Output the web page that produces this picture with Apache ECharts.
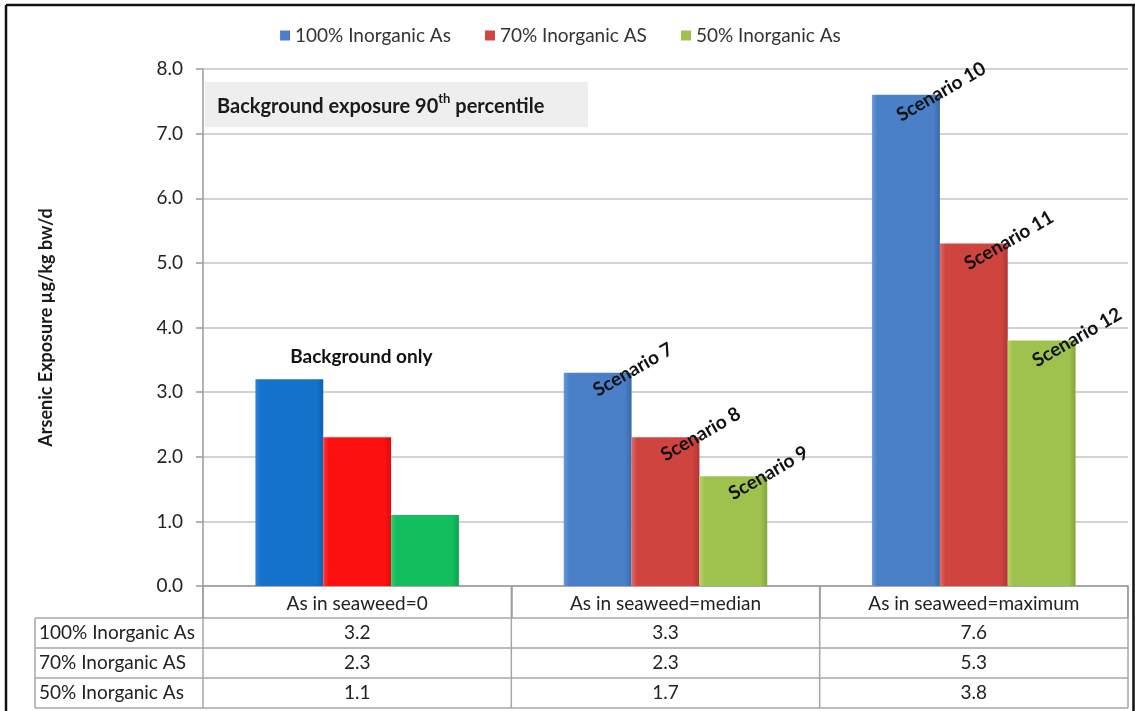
<!DOCTYPE html>
<html>
<head>
<meta charset="utf-8">
<title>Arsenic exposure scenarios</title>
<script src="https://cdn.jsdelivr.net/npm/echarts@6/dist/echarts.min.js"></script>
<style>
  html, body { margin: 0; padding: 0; background: #ffffff; }
  #chart { width: 1135px; height: 711px; }
</style>
</head>
<body>
<div id="chart"></div>
<script>
// Seaweed arsenic categories and exposure values (µg/kg bw/d)
const categories = ['As in seaweed=0', 'As in seaweed=median', 'As in seaweed=maximum'];
const seriesNames = ['100% Inorganic As', '70% Inorganic AS', '50% Inorganic As'];
const inorganic100 = [3.2, 3.3, 7.6];
const inorganic70 = [2.3, 2.3, 5.3];
const inorganic50 = [1.1, 1.7, 3.8];
const scenarioLabels100 = ['Background only', 'Scenario 7', 'Scenario 10'];
const scenarioLabels70 = ['', 'Scenario 8', 'Scenario 11'];
const scenarioLabels50 = ['', 'Scenario 9', 'Scenario 12'];
const yTicks = { min: 0, max: 8, interval: 1 };

const FONT = 'Lato, "Open Sans", sans-serif';
const chart = echarts.init(document.getElementById('chart'), null, { renderer: 'canvas' });

function hGrad(left, mid, right) {
  return new echarts.graphic.LinearGradient(0, 0, 1, 0, [
    { offset: 0, color: left },
    { offset: 0.08, color: mid },
    { offset: 0.9, color: mid },
    { offset: 1, color: right }
  ]);
}

const shaded = [
  hGrad('#6399dc', '#4a80c8', '#3a68aa'),
  hGrad('#e26a66', '#d04440', '#b23634'),
  hGrad('#b6d468', '#9fc24e', '#86a63a')
];
const flat = [
  hGrad('#2a84dc', '#1673cc', '#0f60b0'),
  hGrad('#ff3a3a', '#ff1010', '#dd0c0c'),
  hGrad('#2ad070', '#12be5e', '#0ea552')
];
const values = [inorganic100, inorganic70, inorganic50];
const labelSets = [scenarioLabels100, scenarioLabels70, scenarioLabels50];

const scenarioLabel = {
  show: true,
  position: 'top',
  distance: 0,
  rotate: 30,
  align: 'center',
  verticalAlign: 'middle',
  offset: [32, 15],
  fontFamily: FONT,
  fontWeight: 'bold',
  fontSize: 19,
  color: '#111111'
};

const series = values.map((vals, s) => ({
  name: seriesNames[s],
  type: 'bar',
  barGap: '0%',
  barCategoryGap: '34%',
  itemStyle: { color: shaded[s] },
  label: Object.assign({}, scenarioLabel, {
    formatter: (p) => labelSets[s][p.dataIndex]
  }),
  data: vals.map((v, i) => {
    if (i !== 0) return v;
    const item = { value: v, itemStyle: { color: flat[s] } };
    if (s === 0) {
      item.label = { rotate: 0, offset: [72, -22], fontSize: 19 };
    }
    return item;
  })
}));

const gridBox = { left: 203, right: 7, top: 69, bottom: 125 };

chart.setOption({
  animation: false,
  backgroundColor: '#ffffff',
  textStyle: { fontFamily: FONT },
  legend: {
    top: 21,
    left: 275,
    itemWidth: 10,
    itemHeight: 10,
    itemGap: 34,
    icon: 'rect',
    textStyle: { fontFamily: FONT, fontSize: 19, color: '#333333' },
    data: seriesNames
  },
  grid: gridBox,
  xAxis: {
    type: 'category',
    data: categories,
    axisLine: { show: true, lineStyle: { color: '#9a9a9a', width: 1.5 } },
    axisTick: { show: true, interval: 0, length: 32, lineStyle: { color: '#9a9a9a', width: 1.5 } },
    axisLabel: { interval: 0, margin: 8, fontFamily: FONT, fontSize: 19, color: '#222222' }
  },
  yAxis: {
    type: 'value',
    min: yTicks.min,
    max: yTicks.max,
    interval: yTicks.interval,
    name: 'Arsenic Exposure µg/kg bw/d',
    nameLocation: 'middle',
    nameGap: 148,
    nameTextStyle: { fontFamily: FONT, fontWeight: 'bold', fontSize: 18, color: '#1a1a1a' },
    axisLine: { show: true, lineStyle: { color: '#9a9a9a', width: 1.5 } },
    axisTick: { show: true, length: 7, lineStyle: { color: '#9a9a9a', width: 1.5 } },
    axisLabel: {
      margin: 20,
      fontFamily: FONT,
      fontSize: 19,
      color: '#222222',
      formatter: (v) => v.toFixed(1)
    },
    splitLine: { show: true, lineStyle: { color: '#c4c4c4', width: 1.5 } }
  },
  series: series
});

// Note box, data table under the axis and the outer frame
function drawExtras() {
  const c0 = chart.convertToPixel({ xAxisIndex: 0 }, categories[0]);
  const c1 = chart.convertToPixel({ xAxisIndex: 0 }, categories[1]);
  const step = c1 - c0;
  const bounds = [];
  for (let i = 0; i <= categories.length; i++) bounds.push(c0 - step / 2 + i * step);
  const axisY = chart.convertToPixel({ yAxisIndex: 0 }, 0);
  const headerH = 32, rowH = 30;
  const tableLeft = 35;
  const right = bounds[bounds.length - 1];
  const rowsTop = axisY + headerH;
  const tableBottom = rowsTop + rowH * 3;
  const lineStyle = { stroke: '#a6a6a6', lineWidth: 1.5 };
  const els = [];

  // horizontal rules of the value rows
  for (let r = 0; r <= 3; r++) {
    const y = rowsTop + r * rowH;
    els.push({ type: 'line', shape: { x1: tableLeft, y1: y, x2: right, y2: y }, style: lineStyle, silent: true });
  }
  // vertical rules
  els.push({ type: 'line', shape: { x1: tableLeft, y1: rowsTop, x2: tableLeft, y2: tableBottom }, style: lineStyle, silent: true });
  bounds.forEach((bx) => {
    els.push({ type: 'line', shape: { x1: bx, y1: axisY, x2: bx, y2: tableBottom }, style: lineStyle, silent: true });
  });

  // row titles and values
  values.forEach((vals, r) => {
    const cy = rowsTop + r * rowH + rowH / 2;
    els.push({
      type: 'text', silent: true,
      style: { x: tableLeft + 4, y: cy, text: seriesNames[r], fontFamily: FONT, fontSize: 19, fill: '#222222', verticalAlign: 'middle', align: 'left' }
    });
    vals.forEach((v, i) => {
      els.push({
        type: 'text', silent: true,
        style: { x: c0 + i * step, y: cy, text: v.toFixed(1), fontFamily: FONT, fontSize: 19, fill: '#222222', verticalAlign: 'middle', align: 'center' }
      });
    });
  });

  // note box in the upper left of the plot
  const boxTop = chart.convertToPixel({ yAxisIndex: 0 }, 7.8);
  const boxBottom = chart.convertToPixel({ yAxisIndex: 0 }, 7.1);
  els.push({
    type: 'rect', silent: true,
    shape: { x: bounds[0] + 2, y: boxTop, width: 383, height: boxBottom - boxTop },
    style: { fill: '#eeeeee' }
  });
  els.push({
    type: 'text', silent: true,
    style: {
      x: bounds[0] + 14, y: (boxTop + boxBottom) / 2,
      text: '{b|Background exposure 90}{s|th}{b| percentile}',
      verticalAlign: 'middle', align: 'left',
      rich: {
        b: { fontFamily: FONT, fontWeight: 'bold', fontSize: 20, fill: '#1a1a1a', lineHeight: 24, verticalAlign: 'bottom' },
        s: { fontFamily: FONT, fontWeight: 'bold', fontSize: 13, fill: '#1a1a1a', lineHeight: 24, verticalAlign: 'top' }
      }
    }
  });

  // outer frame
  const frame = { stroke: '#111111', lineWidth: 2.5 };
  els.push({ type: 'line', silent: true, shape: { x1: 6, y1: 5, x2: 1135, y2: 5 }, style: frame });
  els.push({ type: 'line', silent: true, shape: { x1: 6, y1: 5, x2: 6, y2: 711 }, style: frame });
  els.push({ type: 'line', silent: true, shape: { x1: 1133.5, y1: 5, x2: 1133.5, y2: 711 }, style: frame });

  chart.setOption({ graphic: { elements: els } });
}
drawExtras();
</script>
</body>
</html>
